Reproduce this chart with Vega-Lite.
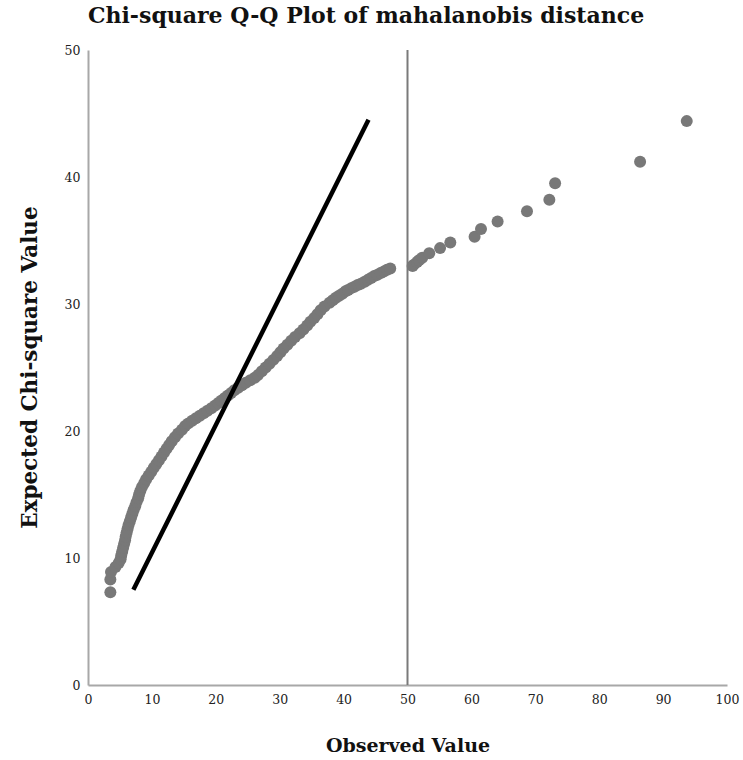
{
  "$schema": "https://vega.github.io/schema/vega-lite/v6.json",
  "autosize": {"type": "none"},
  "width": 639,
  "height": 635,
  "padding": {"left": 88, "top": 50, "right": 16, "bottom": 75},
  "background": "white",
  "config": {"view": {"stroke": null}, "font": "DejaVu Serif"},
  "title": {
    "text": "Chi-square Q-Q Plot of mahalanobis distance",
    "anchor": "start",
    "frame": "group",
    "offset": 16,
    "font": "DejaVu Serif",
    "fontSize": 22,
    "fontWeight": "bold",
    "color": "#111111"
  },
  "datasets": {
    "points": [
      {"obs": 3.5, "exp": 7.3}, {"obs": 3.5, "exp": 8.3}, {"obs": 3.6, "exp": 8.9},
      {"obs": 4.3, "exp": 9.3}, {"obs": 4.8, "exp": 9.6}, {"obs": 5.1, "exp": 9.9}, {"obs": 5.2, "exp": 10.2},
      {"obs": 5.35, "exp": 10.5}, {"obs": 5.5, "exp": 10.8}, {"obs": 5.65, "exp": 11.1}, {"obs": 5.8, "exp": 11.4},
      {"obs": 5.9, "exp": 11.7}, {"obs": 6.05, "exp": 12.0}, {"obs": 6.2, "exp": 12.3}, {"obs": 6.35, "exp": 12.6},
      {"obs": 6.55, "exp": 12.9}, {"obs": 6.75, "exp": 13.2}, {"obs": 6.95, "exp": 13.5}, {"obs": 7.15, "exp": 13.8},
      {"obs": 7.4, "exp": 14.1}, {"obs": 7.6, "exp": 14.4}, {"obs": 7.85, "exp": 14.7}, {"obs": 8.0, "exp": 15.0},
      {"obs": 8.2, "exp": 15.3}, {"obs": 8.45, "exp": 15.6}, {"obs": 8.8, "exp": 15.9}, {"obs": 9.1, "exp": 16.2},
      {"obs": 9.5, "exp": 16.5}, {"obs": 9.9, "exp": 16.8}, {"obs": 10.3, "exp": 17.1}, {"obs": 10.7, "exp": 17.4},
      {"obs": 11.1, "exp": 17.7}, {"obs": 11.5, "exp": 18.0}, {"obs": 11.9, "exp": 18.3}, {"obs": 12.3, "exp": 18.6},
      {"obs": 12.7, "exp": 18.9}, {"obs": 13.1, "exp": 19.2}, {"obs": 13.6, "exp": 19.5}, {"obs": 14.1, "exp": 19.8},
      {"obs": 14.7, "exp": 20.1}, {"obs": 15.2, "exp": 20.4}, {"obs": 15.7, "exp": 20.6}, {"obs": 16.3, "exp": 20.8},
      {"obs": 16.9, "exp": 21.0}, {"obs": 17.5, "exp": 21.2}, {"obs": 18.1, "exp": 21.4}, {"obs": 18.7, "exp": 21.6},
      {"obs": 19.3, "exp": 21.8}, {"obs": 19.9, "exp": 22.0}, {"obs": 20.4, "exp": 22.2}, {"obs": 20.9, "exp": 22.4},
      {"obs": 21.4, "exp": 22.6}, {"obs": 21.9, "exp": 22.8}, {"obs": 22.4, "exp": 23.0}, {"obs": 22.9, "exp": 23.2},
      {"obs": 23.5, "exp": 23.4}, {"obs": 24.1, "exp": 23.6}, {"obs": 24.7, "exp": 23.8}, {"obs": 25.4, "exp": 24.0},
      {"obs": 26.1, "exp": 24.2}, {"obs": 26.6, "exp": 24.4}, {"obs": 27.2, "exp": 24.7}, {"obs": 27.8, "exp": 25.0},
      {"obs": 28.4, "exp": 25.3}, {"obs": 29.0, "exp": 25.6}, {"obs": 29.6, "exp": 25.9}, {"obs": 30.1, "exp": 26.2},
      {"obs": 30.6, "exp": 26.5}, {"obs": 31.2, "exp": 26.8}, {"obs": 31.8, "exp": 27.1}, {"obs": 32.4, "exp": 27.4},
      {"obs": 33.1, "exp": 27.7}, {"obs": 33.7, "exp": 28.0}, {"obs": 34.3, "exp": 28.3}, {"obs": 34.8, "exp": 28.6},
      {"obs": 35.4, "exp": 28.9}, {"obs": 35.9, "exp": 29.2}, {"obs": 36.4, "exp": 29.5}, {"obs": 37.0, "exp": 29.8},
      {"obs": 37.8, "exp": 30.1}, {"obs": 38.3, "exp": 30.3}, {"obs": 38.8, "exp": 30.5}, {"obs": 39.3, "exp": 30.65},
      {"obs": 39.8, "exp": 30.8}, {"obs": 40.3, "exp": 31.0}, {"obs": 40.7, "exp": 31.1}, {"obs": 41.2, "exp": 31.25},
      {"obs": 41.7, "exp": 31.35}, {"obs": 42.2, "exp": 31.5}, {"obs": 42.7, "exp": 31.6}, {"obs": 43.3, "exp": 31.75},
      {"obs": 43.8, "exp": 31.9}, {"obs": 44.3, "exp": 32.05}, {"obs": 44.8, "exp": 32.2}, {"obs": 45.3, "exp": 32.3},
      {"obs": 45.8, "exp": 32.45}, {"obs": 46.3, "exp": 32.55}, {"obs": 46.8, "exp": 32.7}, {"obs": 47.3, "exp": 32.8},
      {"obs": 50.8, "exp": 33.0}, {"obs": 51.0, "exp": 33.1}, {"obs": 51.5, "exp": 33.3}, {"obs": 51.8, "exp": 33.45},
      {"obs": 52.3, "exp": 33.65}, {"obs": 53.4, "exp": 34.0}, {"obs": 55.1, "exp": 34.4}, {"obs": 56.7, "exp": 34.85},
      {"obs": 60.5, "exp": 35.3}, {"obs": 61.5, "exp": 35.9}, {"obs": 64.1, "exp": 36.5}, {"obs": 68.7, "exp": 37.3},
      {"obs": 72.2, "exp": 38.2}, {"obs": 73.1, "exp": 39.5}, {"obs": 86.4, "exp": 41.2}, {"obs": 93.7, "exp": 44.4}
    ],
    "refline": [
      {"obs": 7.1, "exp": 7.5},
      {"obs": 43.9, "exp": 44.5}
    ],
    "vline": [
      {"obs": 50}
    ]
  },
  "layer": [
    {
      "data": {"name": "vline"},
      "mark": {"type": "rule", "color": "#7a7a7a", "strokeWidth": 2},
      "encoding": {"x": {"field": "obs", "type": "quantitative"}}
    },
    {
      "data": {"name": "points"},
      "mark": {"type": "circle", "size": 144, "color": "#787878", "opacity": 1},
      "encoding": {
        "x": {
          "field": "obs", "type": "quantitative",
          "scale": {"domain": [0, 100], "nice": false, "zero": false},
          "axis": {
            "title": "Observed Value",
            "values": [0, 10, 20, 30, 40, 50, 60, 70, 80, 90, 100],
            "grid": false, "ticks": false,
            "domainColor": "#a8a8a8", "domainWidth": 2,
            "labelFont": "DejaVu Serif", "labelFontSize": 12.5, "labelColor": "#222222",
            "labelPadding": 8, "labelFlush": false,
            "titleFont": "DejaVu Serif", "titleFontSize": 19, "titleFontWeight": "bold", "titleColor": "#111111",
            "titleY": 60, "titleBaseline": "middle"
          }
        },
        "y": {
          "field": "exp", "type": "quantitative",
          "scale": {"domain": [0, 50], "nice": false, "zero": false},
          "axis": {
            "title": "Expected Chi-square Value",
            "values": [0, 10, 20, 30, 40, 50],
            "grid": false, "ticks": false,
            "domainColor": "#a8a8a8", "domainWidth": 2,
            "labelFont": "DejaVu Serif", "labelFontSize": 12.5, "labelColor": "#222222",
            "labelPadding": 8, "labelFlush": false,
            "titleFont": "DejaVu Serif", "titleFontSize": 21.5, "titleFontWeight": "bold", "titleColor": "#111111",
            "titleX": -58, "titleY": 317, "titleAngle": -90, "titleBaseline": "middle", "titleAlign": "center"
          }
        }
      }
    },
    {
      "data": {"name": "refline"},
      "mark": {"type": "line", "color": "#000000", "strokeWidth": 4.5},
      "encoding": {
        "x": {"field": "obs", "type": "quantitative"},
        "y": {"field": "exp", "type": "quantitative"}
      }
    }
  ]
}
